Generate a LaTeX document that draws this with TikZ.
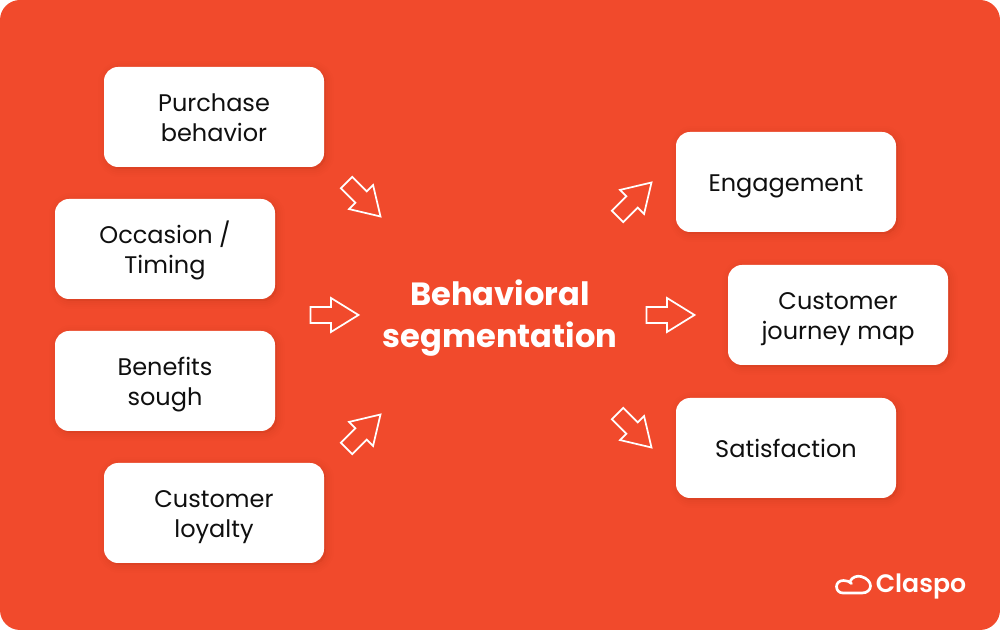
\documentclass[tikz,border=0pt]{standalone}
\usepackage{fontspec}
\setmainfont{Poppins}
\newfontfamily\logofont{Poppins SemiBold}
\usetikzlibrary{shadows}
\definecolor{bgorange}{RGB}{241,74,44}
\definecolor{inkblack}{RGB}{15,15,15}
\tikzset{
  x=0.75pt,y=-0.75pt,
  softbox/.style={fill=white,rounded corners=10.5pt,minimum width=165pt,minimum height=75pt,inner sep=0pt,
    align=center,text=inkblack,font=\fontsize{18pt}{22.5pt}\selectfont,
    drop shadow={draw=black,fill=black,line width=12pt,opacity=.006,shadow xshift=1.5pt,shadow yshift=-1.5pt},
    drop shadow={draw=black,fill=black,line width=9pt,opacity=.008,shadow xshift=1.5pt,shadow yshift=-1.5pt},
    drop shadow={draw=black,fill=black,line width=6pt,opacity=.01,shadow xshift=1.5pt,shadow yshift=-1.5pt},
    drop shadow={draw=black,fill=black,line width=3pt,opacity=.012,shadow xshift=1.5pt,shadow yshift=-1.5pt}},
  twoline/.style={softbox,text height=45pt,text depth=7.5pt},
  oneline/.style={softbox,text height=15pt,text depth=0pt},
  blockarrow/.pic={\draw[white,line width=1.3pt,line join=miter,fill=none]
    (-48,-8)--(-27.5,-8)--(-27.5,-17)--(0,0)--(-27.5,17)--(-27.5,8)--(-48,8)--cycle;}
}
\begin{document}
\begin{tikzpicture}
\useasboundingbox (0,0) rectangle (1000,630);
\fill[bgorange,rounded corners=15pt] (0,0) rectangle (1000,630);
\node[twoline] (purchase) at (214,117) {Purchase\\behavior};
\node[twoline] (occasion) at (165,249) {Occasion /\\Timing};
\node[twoline] (benefits) at (165,381) {Benefits\\sough};
\node[twoline] (loyalty) at (214,513) {Customer\\loyalty};
\node[oneline] (engagement) at (786,182) {Engagement};
\node[twoline] (journey) at (838,315) {Customer\\journey map};
\node[oneline] (satisfaction) at (786,448) {Satisfaction};
\node[align=center,text=white,font=\fontsize{24.1pt}{31.5pt}\bfseries\selectfont] (title) at (500,318) {Behavioral\\segmentation};
\pic[rotate=-45] at (380.5,216.5) {blockarrow};
\pic at (358.5,315) {blockarrow};
\pic[rotate=45] at (380.5,414.5) {blockarrow};
\pic[rotate=45] at (651.5,182.5) {blockarrow};
\pic at (694.5,315) {blockarrow};
\pic[rotate=-45] at (651.5,447.5) {blockarrow};
\draw[white,line width=2pt,line cap=round,line join=round]
  (850,581.5) .. controls (852,577) and (857,575.5) .. (861,576.5) .. controls (867,578) and (870.5,582) .. (870.5,586)
  .. controls (870.5,590) and (867,593) .. (862,593) -- (843,593)
  .. controls (839,593) and (836.5,590) .. (836.5,586.5) .. controls (836.5,583) and (839.5,580.5) .. (843.5,580.5)
  .. controls (847,580.5) and (849.5,581.5) .. (851.5,583.5);
\node[text=white,font=\logofont\fontsize{18.9pt}{22pt}\selectfont,anchor=center,inner sep=0pt] (logo) at (921,587) {Claspo};
\end{tikzpicture}
\end{document}
